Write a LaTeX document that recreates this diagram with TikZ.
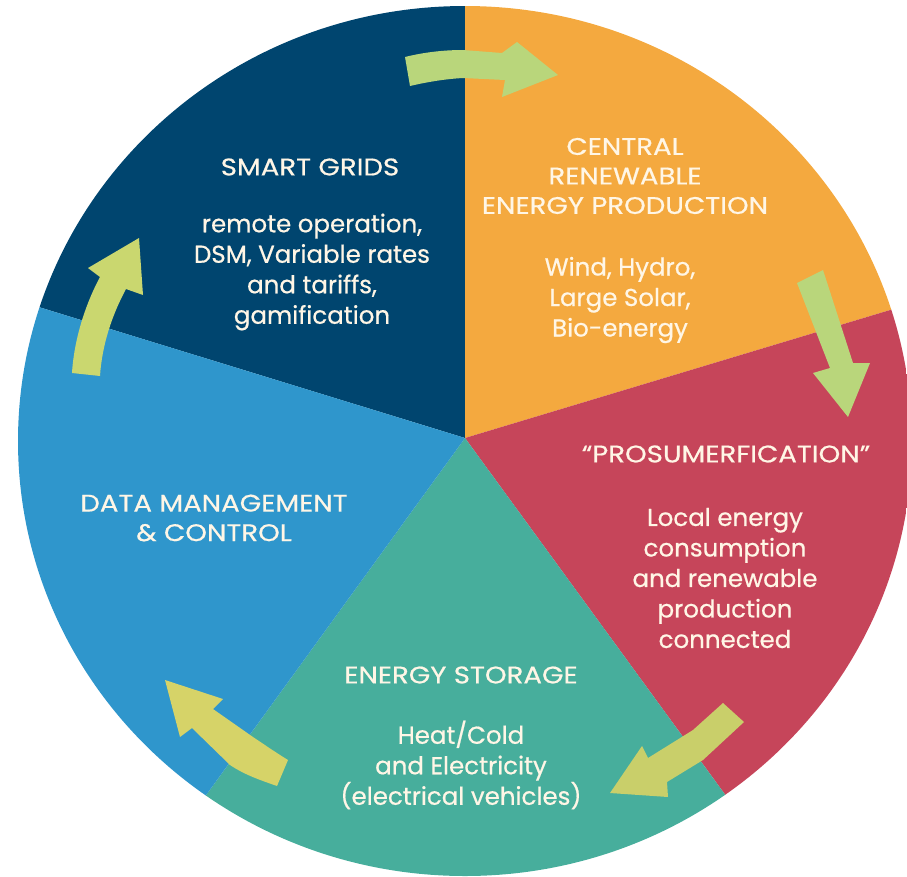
\documentclass[tikz,border=0pt]{standalone}
\usepackage{fontspec}
\setmainfont{Poppins}[RawFeature={embolden=0.6}]
\newcommand{\capsA}{\addfontfeatures{FakeStretch=1.15}\fontsize{24}{29.5}\selectfont}
\newcommand{\lowA}{\fontsize{24.5}{30.5}\selectfont}
\definecolor{cOrange}{HTML}{F4A93F}
\definecolor{cRed}{HTML}{C6455A}
\definecolor{cTeal}{HTML}{47AE9C}
\definecolor{cBlue}{HTML}{2F96CC}
\definecolor{cNavy}{HTML}{00456F}
\definecolor{cTxt}{HTML}{FFF6E6}
\definecolor{aGreen}{HTML}{B9D67B}
\definecolor{aOlive}{HTML}{C9CF6A}
\definecolor{aYellow}{HTML}{D6D368}
\definecolor{aLime}{HTML}{CAD76F}
\tikzset{
  wedge/.style={draw=none},
  flow/.style={draw=none},
  blockt/.style={text=cTxt,align=center,inner sep=0pt,font=\lowA},
  capst/.style={text=cTxt,align=center,inner sep=0pt,font=\capsA},
}
\begin{document}
\begin{tikzpicture}[x=1pt,y=-1pt]
\useasboundingbox (0,0) rectangle (907,876);
\coordinate (c) at (465,438);
\begin{scope}
\clip (465,441) ellipse [x radius=447, y radius=435];
\fill[wedge,cNavy]   (c) -- (465,-20) -- (-20,-20) -- (-20,289) -- cycle;
\fill[wedge,cOrange] (c) -- (465,-20) -- (930,-20) -- (930,298) -- cycle;
\fill[wedge,cRed]    (c) -- (930,298) -- (930,900) -- (802,900) -- cycle;
\fill[wedge,cTeal]   (c) -- (802,900) -- (130,900) -- cycle;
\fill[wedge,cBlue]   (c) -- (130,900) -- (-20,900) -- (-20,289) -- cycle;
\end{scope}
% arrows
\fill[flow,aGreen] (405,57) .. controls (425,52) and (445,50) .. (463,50) -- (502,53) -- (517,42) -- (558,75) -- (502,97) -- (505,80) -- (463,78) .. controls (445,79) and (427,82) .. (410,86) -- cycle;
\fill[flow,aGreen] (797,283) -- (823,270) -- (853,363) -- (870,363) -- (848,417) -- (813,373) -- (830,368) -- cycle;
\fill[flow,aOlive] (723,703) -- (744,722) -- (703,760) -- (667,782) -- (668,797) -- (610,793) -- (642,746) -- (648,758) -- (693,730) -- cycle;
\fill[flow,aYellow] (288,760) -- (277,786) .. controls (260,780) and (245,775) .. (230,765) -- (192,728) -- (180,737) -- (165,680) -- (223,699) -- (213,709) -- (253,737) .. controls (265,745) and (275,752) .. (288,760) -- cycle;
\fill[flow,aLime] (100,376) -- (72,373) .. controls (74,340) and (85,305) .. (100,277) -- (88,268) -- (139,238) -- (143,295) -- (126,289) .. controls (112,315) and (102,345) .. (100,376) -- cycle;
% text
\node[capst] (sgh) at (310,167) {SMART GRIDS};
\node[blockt] (sg) at (312,272) {remote operation,\\DSM, Variable rates\\and tariffs,\\gamification};
\node[capst] (crh) at (625,176) {CENTRAL\\RENEWABLE\\ENERGY PRODUCTION};
\node[blockt] (cr) at (620,300) {Wind, Hydro,\\Large Solar,\\Bio-energy};
\node[capst] (pr) at (726,454) {``PROSUMERFICATION''};
\node[blockt] (pb) at (725,578) {Local energy\\consumption\\and renewable\\production\\connected};
\node[capst] (esh) at (461,675) {ENERGY STORAGE};
\node[blockt] (es) at (461,765) {Heat/Cold\\and Electricity\\(electrical vehicles)};
\node[capst] (dm) at (214,518) {DATA MANAGEMENT\\\& CONTROL};
\end{tikzpicture}
\end{document}
